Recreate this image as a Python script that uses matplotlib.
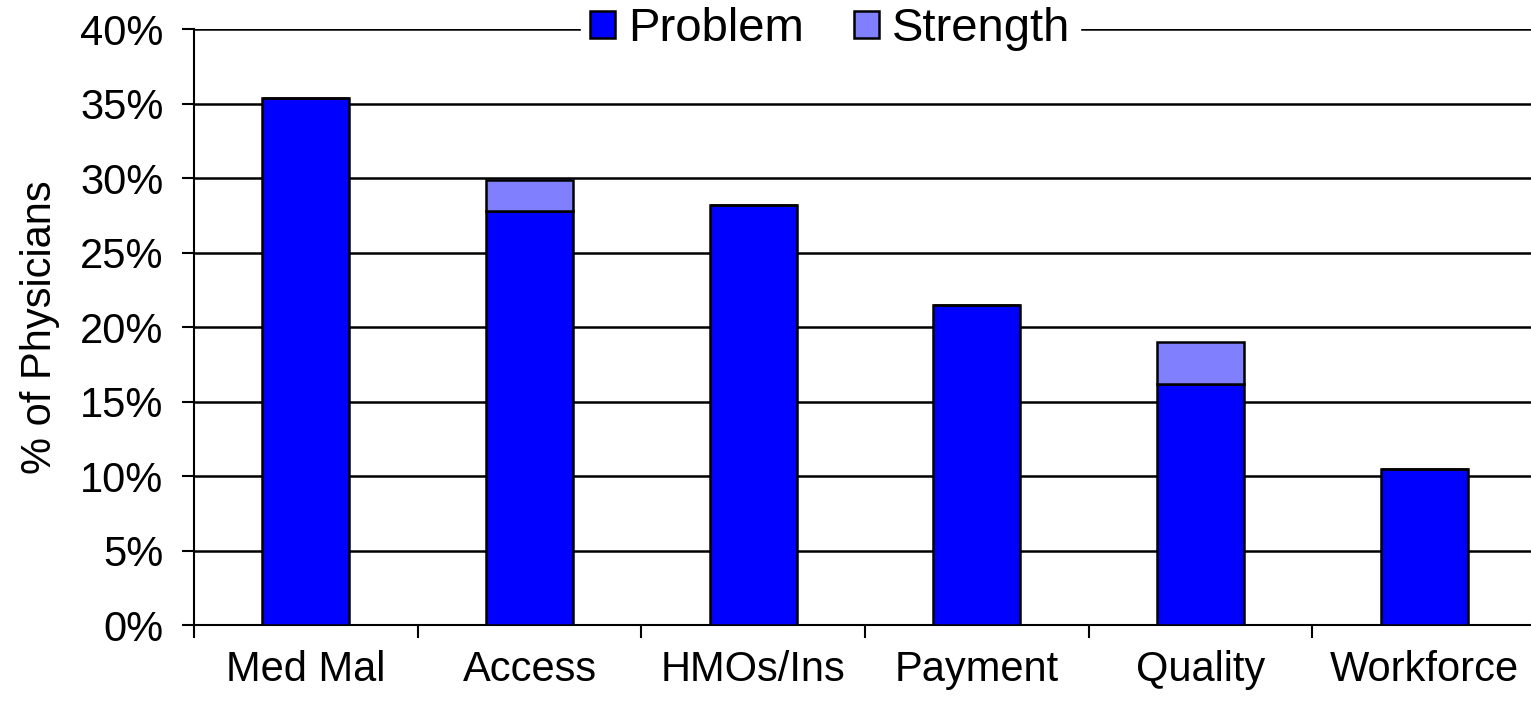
import numpy as np
import matplotlib.pyplot as plt
from matplotlib.ticker import FixedLocator

plt.rcParams['font.family'] = ['Liberation Sans', 'DejaVu Sans']

categories = ['Med Mal', 'Access', 'HMOs/Ins', 'Payment', 'Quality', 'Workforce']
problem = [35.4, 27.8, 28.2, 21.5, 16.2, 10.5]
strength = [0, 2.1, 0, 0, 2.8, 0]
yticks = [0, 5, 10, 15, 20, 25, 30, 35, 40]

fig = plt.figure(figsize=(15.31, 7.06), dpi=100)
ax = fig.add_axes([0.1267, 0.1147, 0.8766, 0.8442])

x = np.arange(len(categories))
ax.bar(x, problem, width=0.39, color='#0000ff', edgecolor='black', linewidth=1.8,
       label='Problem', zorder=3)
ax.bar(x, strength, width=0.39, bottom=problem, color='#8080ff', edgecolor='black',
       linewidth=1.8, label='Strength', zorder=3)

ax.set_xlim(-0.5, len(categories) - 0.5)
ax.set_ylim(0, 40)
ax.set_yticks(yticks)
ax.set_yticklabels([f'{v}%' for v in yticks], fontsize=30)
ax.set_xticks(x)
ax.set_xticklabels(categories, fontsize=30)
ax.xaxis.set_minor_locator(FixedLocator(np.arange(-0.5, len(categories), 1)))
ax.tick_params(axis='x', which='major', length=0, pad=18)
ax.tick_params(axis='x', which='minor', length=9, width=1.5, direction='out')
ax.tick_params(axis='y', length=9, width=1.5, direction='out', pad=13)

ax.grid(axis='y', color='black', linewidth=1.8, zorder=0)
ax.set_axisbelow(True)
for s in ['top', 'right']:
    ax.spines[s].set_visible(False)
for s in ['left', 'bottom']:
    ax.spines[s].set_linewidth(1.5)

ax.set_ylabel('% of Physicians', fontsize=30, labelpad=14)

leg = ax.legend(loc='center', bbox_to_anchor=(0.474, 1.0), ncol=2, fontsize=34,
                frameon=True, framealpha=1, edgecolor='white', handlelength=0.53,
                handleheight=0.49, handletextpad=0.28, columnspacing=1.05,
                borderpad=0.2, borderaxespad=0)
leg.set_zorder(5)

fig.savefig('out.png', dpi=100)
